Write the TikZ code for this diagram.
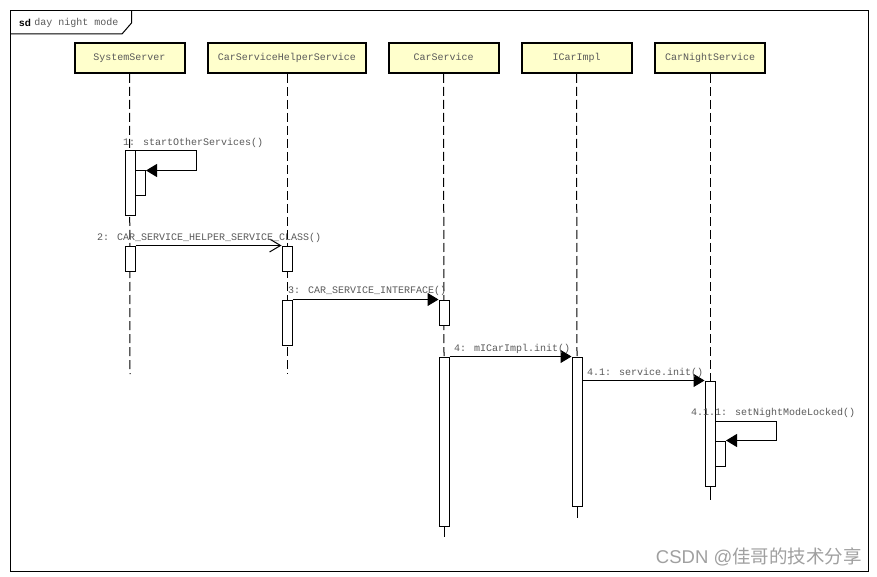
\documentclass[tikz,border=0pt]{standalone}
\usepackage{fontspec}
\setmainfont{Liberation Mono}
\newfontfamily\cjkwm{Noto Sans CJK SC}
\newfontfamily\sdfont{Liberation Sans}
\usetikzlibrary{arrows.meta}
\definecolor{boxfill}{HTML}{FFFFCC}
\definecolor{txtgray}{HTML}{5A5A5A}
\definecolor{wmgray}{HTML}{A0A0A0}
\tikzset{
  lifebox/.style={draw=black, line width=2pt, fill=boxfill, minimum height=30pt, inner sep=0pt, text height=7pt, text depth=2pt, text=txtgray, font=\fontsize{10}{12}\selectfont},
  lifeline/.style={line width=1pt, dash pattern=on 9pt off 4pt},
  tail/.style={line width=1pt},
  act/.style={draw=black, line width=1pt, fill=white, minimum width=10pt, inner sep=0pt},
  msg/.style={line width=1pt, -{Triangle[length=11pt,width=13pt]}},
  openmsg/.style={line width=1pt, -{Straight Barb[length=11pt,width=13pt]}},
  lbl/.style={anchor=west, inner sep=0pt, text=txtgray, font=\fontsize{10}{12}\selectfont}
}
\begin{document}
\begin{tikzpicture}[x=1pt,y=-1pt]
\useasboundingbox (0,0) rectangle (877,577);
\fill[white] (0,0) rectangle (877,577);
% frame
\draw[line width=1pt] (10,11) rectangle (868,571);
\draw[line width=1pt] (10,34) -- (122,34) -- (131.5,23) -- (131.5,11);
\node[anchor=west, inner sep=0pt] (sdt) at (19,22.5) {\sdfont\bfseries\fontsize{10}{12}\selectfont sd};
\node[lbl] (sdn) at (sdt.east) [xshift=3pt] {day night mode};
% lifeline heads
\node[lifebox, minimum width=110pt] (ss) at (129.5,58) {SystemServer};
\node[lifebox, minimum width=158pt] (cshs) at (287,58) {CarServiceHelperService};
\node[lifebox, minimum width=110pt] (cs) at (443.5,58) {CarService};
\node[lifebox, minimum width=110pt] (ici) at (576.5,58) {ICarImpl};
\node[lifebox, minimum width=110pt] (cns) at (710,58) {CarNightService};
% activations (positions)
\coordinate (ssE) at (130,374);
\coordinate (cshsE) at (287,374);
\coordinate (csE) at (444,537);
\coordinate (iciE) at (577,518);
\coordinate (cnsE) at (710,500);
\path
  node[act, minimum height=65pt, draw=none, fill=none] (a1) at (130,183.5) {}
  node[act, minimum height=169pt, draw=none, fill=none] (c4) at (444,441.5) {}
  node[act, minimum height=149pt, draw=none, fill=none] (d4) at (577,431.5) {}
  node[act, minimum height=105pt, draw=none, fill=none] (e41) at (710,433.5) {};
% lifelines
\draw[lifeline] (ss.south) -- (ssE);
\draw[lifeline] (cshs.south) -- (cshsE);
\draw[lifeline] (cs.south) -- (c4.north);
\draw[tail] (c4.south) -- (csE);
\draw[lifeline] (ici.south) -- (d4.north);
\draw[tail] (d4.south) -- (iciE);
\draw[lifeline] (cns.south) -- (e41.north);
\draw[tail] (e41.south) -- (cnsE);
% activations
\node[act, minimum height=65pt] at (a1) {};
\node[act, minimum height=25pt] (a1n) at (140.5,183.5) {};
\node[act, minimum height=25pt] (a2) at (130,258.5) {};
\node[act, minimum height=25pt] (b2) at (287,258.5) {};
\node[act, minimum height=45pt] (b3) at (287,322.5) {};
\node[act, minimum height=25pt] (c3) at (444,312.5) {};
\node[act, minimum height=169pt] at (c4) {};
\node[act, minimum height=149pt] at (d4) {};
\node[act, minimum height=105pt] at (e41) {};
\node[act, minimum height=25pt] (e41n) at (720.5,453.5) {};
% messages
\draw[msg] (a1.north east) -- ++(60.5,0) |- (a1n.north east);
\node[lbl] (l1) at (123,142.5) {1: startOtherServices()};
\draw[openmsg] (a2.north east) -- (b2.north west);
\node[lbl] (l2) at (97,237.5) {2: CAR\_SERVICE\_HELPER\_SERVICE\_CLASS()};
\draw[msg] (b3.north east) -- (c3.north west);
\node[lbl] (l3) at (288,291) {3: CAR\_SERVICE\_INTERFACE()};
\draw[msg] (c4.north east) -- (d4.north west);
\node[lbl] (l4) at (454,348.5) {4: mICarImpl.init()};
\draw[msg] (d4.north east |- e41.north) -- (e41.north west);
\node[lbl] (l41) at (587,372.5) {4.1: service.init()};
\draw[msg] (e41.east |- 0,421.5) coordinate (s411) -- ++(60.5,0) |- (e41n.north east);
\node[lbl] (l411) at (691,412.5) {4.1.1: setNightModeLocked()};
% watermark
\node[anchor=east, inner sep=0pt, text=wmgray] (wm) at (862,557) {\sdfont\fontsize{18.5}{22}\selectfont CSDN @\cjkwm 佳哥的技术分享};
\end{tikzpicture}
\end{document}
